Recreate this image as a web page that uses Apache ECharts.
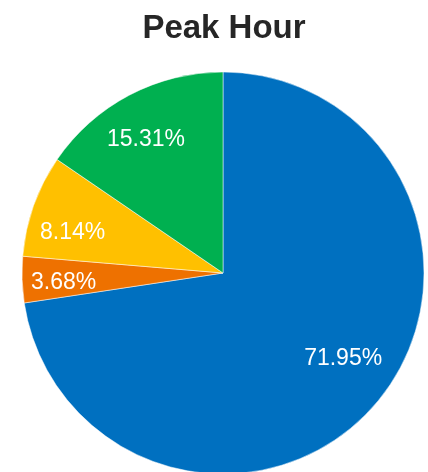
<!DOCTYPE html>
<html>
<head>
<meta charset="utf-8">
<script src="https://cdn.jsdelivr.net/npm/echarts@6/dist/echarts.min.js"></script>
<style>
html,body{margin:0;padding:0;background:#fff;}
#chart{width:428px;height:472px;}
</style>
</head>
<body>
<div id="chart"></div>
<script>
const titleText = 'Peak Hour';
const categories = ['Blue', 'Orange', 'Yellow', 'Green'];
const values = [71.95, 3.68, 8.14, 15.31];
const colors = ['#0070C0', '#EE7100', '#FFC000', '#00B050'];

const chart = echarts.init(document.getElementById('chart'), null, {renderer: 'canvas'});
const data = categories.map((c, i) => ({name: c, value: values[i], itemStyle: {color: colors[i]}}));
const labelData = categories.map((c, i) => ({name: c, value: values[i]}));
// small label nudges (Excel "best fit" placement)
const nudge = [[0, -18], [-1, 4], [-1, 13], [-3, 7]];

chart.setOption({
  animation: false,
  title: {
    text: titleText,
    left: 219,
    top: 7,
    textAlign: 'center',
    textStyle: {fontFamily: 'Liberation Sans, Arial, sans-serif', fontSize: 33, fontWeight: 'bold', color: '#262626'}
  },
  series: [
    {
      type: 'pie',
      center: [223, 273],
      radius: [0, 201],
      startAngle: 90,
      clockwise: true,
      silent: true,
      label: {show: false},
      labelLine: {show: false},
      itemStyle: {borderColor: '#ffffff', borderWidth: 0.5},
      data: data
    },
    {
      type: 'pie',
      center: [223, 273],
      radius: [110, 201],
      startAngle: 90,
      clockwise: true,
      silent: true,
      itemStyle: {color: 'rgba(0,0,0,0)'},
      label: {
        show: true,
        position: 'inside',
        formatter: p => p.value.toFixed(2) + '%',
        color: '#ffffff',
        fontFamily: 'Liberation Sans, Arial, sans-serif',
        fontSize: 23
      },
      labelLayout: p => ({dx: nudge[p.dataIndex][0], dy: nudge[p.dataIndex][1]}),
      labelLine: {show: false},
      data: labelData
    }
  ]
});
</script>
</body>
</html>
